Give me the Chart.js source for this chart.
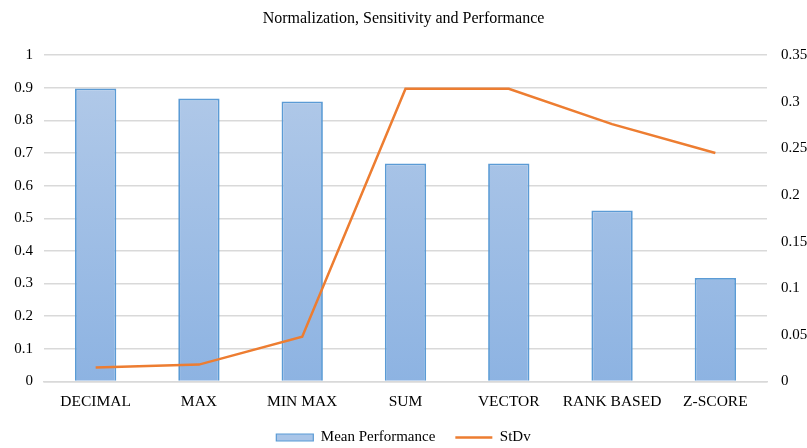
<!DOCTYPE html>
<html>
<head>
<meta charset="utf-8">
<script src="https://cdn.jsdelivr.net/npm/chart.js@4/dist/chart.umd.min.js"></script>
<style>
html,body{margin:0;padding:0;background:#fff;}
#wrap{width:807px;height:448px;}
</style>
</head>
<body>
<div id="wrap"><canvas id="c" width="807" height="448"></canvas></div>
<script>
const categories = ["DECIMAL", "MAX", "MIN MAX", "SUM", "VECTOR", "RANK BASED", "Z-SCORE"];
const meanPerformance = [0.898, 0.867, 0.858, 0.668, 0.668, 0.524, 0.317];
const stdv = [0.015, 0.018, 0.048, 0.314, 0.314, 0.276, 0.245];
const leftTicks = [0, 0.1, 0.2, 0.3, 0.4, 0.5, 0.6, 0.7, 0.8, 0.9, 1];
const rightTicks = [0, 0.05, 0.1, 0.15, 0.2, 0.25, 0.3, 0.35];

const serif = "'Liberation Serif', 'Times New Roman', serif";

function barGradient(ctx) {
  const chart = ctx.chart;
  const area = chart.chartArea;
  if (!area) return '#a6c2e6';
  const g = chart.ctx.createLinearGradient(0, area.top, 0, area.bottom);
  g.addColorStop(0, '#b4cbe9');
  g.addColorStop(1, '#8db3e2');
  return g;
}

const legendShift = {
  id: 'legendShift',
  afterLayout(chart) {
    const lg = chart.legend;
    if (lg) { lg.top -= 12; lg.bottom -= 12; }
  }
};

new Chart(document.getElementById('c'), {
  plugins: [legendShift],
  data: {
    labels: categories,
    datasets: [
      {
        type: 'line',
        label: 'StDv',
        data: stdv,
        yAxisID: 'y1',
        borderColor: '#ed7d31',
        backgroundColor: '#ed7d31',
        borderWidth: 2.5,
        pointRadius: 0,
        tension: 0,
        order: 0
      },
      {
        type: 'bar',
        label: 'Mean Performance',
        data: meanPerformance,
        yAxisID: 'y',
        backgroundColor: barGradient,
        borderColor: '#5b9bd5',
        borderWidth: 1.8,
        barPercentage: 0.4,
        categoryPercentage: 1,
        order: 1
      }
    ]
  },
  options: {
    responsive: false,
    animation: false,
    layout: { padding: { left: 0, right: 0, top: 0, bottom: -19 } },
    plugins: {
      title: {
        display: true,
        text: 'Normalization, Sensitivity and Performance',
        color: '#000',
        font: { family: serif, size: 16, weight: 'normal' },
        padding: { top: 9, bottom: 27 }
      },
      legend: {
        position: 'bottom',
        reverse: true,
        labels: {
          color: '#000',
          font: { family: serif, size: 15 },
          usePointStyle: true,
          pointStyleWidth: 37,
          boxHeight: 7,
          padding: 20,
          generateLabels(chart) {
            return chart.data.datasets.map((ds, i) => ({
              text: ds.label,
              fillStyle: ds.type === 'bar' ? '#a9c5e8' : '#ed7d31',
              strokeStyle: ds.type === 'bar' ? '#5b9bd5' : '#ed7d31',
              lineWidth: ds.type === 'bar' ? 1.2 : 2.5,
              pointStyle: ds.type === 'bar' ? 'rect' : 'line',
              hidden: false,
              datasetIndex: i,
              fontColor: '#000'
            }));
          }
        }
      },
      tooltip: { enabled: false }
    },
    scales: {
      x: {
        grid: { display: false, drawTicks: false },
        border: { display: true, color: '#d9d9d9', width: 1.5 },
        ticks: { color: '#000', font: { family: serif, size: 15.5 }, padding: 11, maxRotation: 0, autoSkip: false }
      },
      y: {
        position: 'left',
        min: 0, max: 1,
        afterBuildTicks(s) { s.ticks = leftTicks.map(v => ({ value: v })); },
        afterFit(s) { s.width = 44; },
        grid: { color: '#d9d9d9', lineWidth: 1.5, drawTicks: false },
        border: { display: false },
        ticks: { color: '#000', font: { family: serif, size: 15 }, padding: 11, callback: v => String(Math.round(v * 10) / 10) }
      },
      y1: {
        position: 'right',
        min: 0, max: 0.35,
        afterBuildTicks(s) { s.ticks = rightTicks.map(v => ({ value: v })); },
        afterFit(s) { s.width = 40; },
        grid: { display: false, drawTicks: false },
        border: { display: false },
        ticks: { color: '#000', font: { family: serif, size: 15 }, padding: 14, callback: v => String(Math.round(v * 100) / 100) }
      }
    }
  }
});
</script>
</body>
</html>
